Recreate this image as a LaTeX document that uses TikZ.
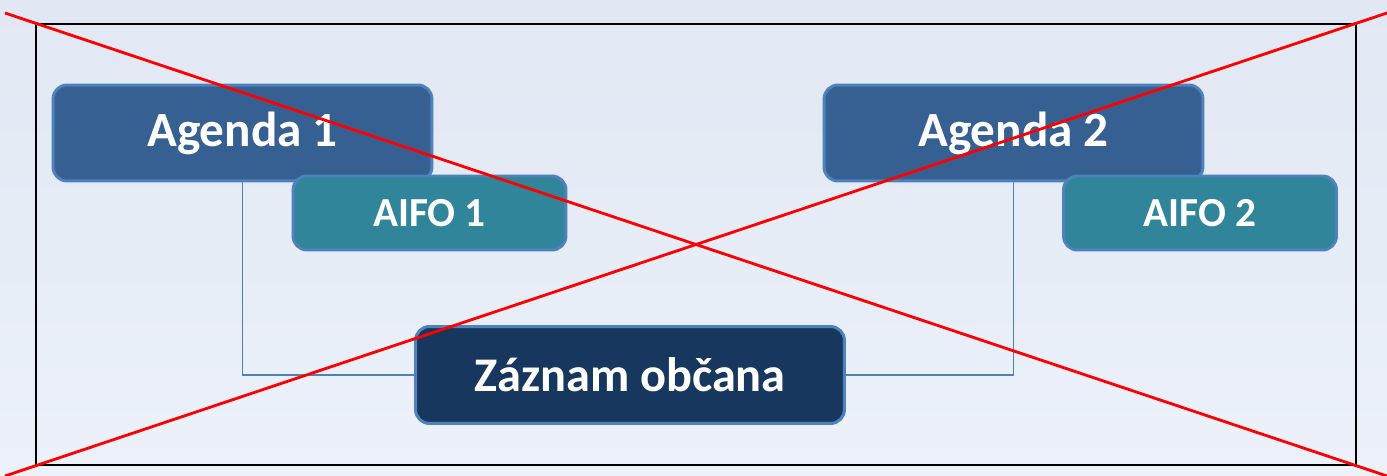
\documentclass[tikz,border=0pt]{standalone}
\usepackage{fontspec}
\setmainfont{Carlito}
\usepackage{xcolor}
\definecolor{agendablue}{RGB}{54,96,146}
\definecolor{aifoteal}{RGB}{49,133,155}
\definecolor{zaznamnavy}{RGB}{23,55,94}
\definecolor{edgeblue}{RGB}{79,129,189}
\definecolor{bgtop}{RGB}{225,232,243}
\definecolor{bgbottom}{RGB}{236,241,250}

\tikzset{
    box/.style={draw=edgeblue, line width=1.7pt, rounded corners=0.28cm,
        text=white, font=\bfseries, inner sep=0pt},
    agendabox/.style={box, fill=agendablue, minimum width=7.58cm,
        minimum height=1.92cm, font=\fontsize{28}{30}\selectfont\bfseries},
    aifobox/.style={box, fill=aifoteal, minimum width=5.46cm,
        minimum height=1.48cm, font=\fontsize{23.5}{26}\selectfont\bfseries},
    zaznambox/.style={box, fill=zaznamnavy, minimum width=8.58cm,
        minimum height=1.94cm, font=\fontsize{27.5}{30}\selectfont\bfseries},
    link/.style={draw=edgeblue, line width=0.9pt},
    cross/.style={draw=red, line width=1.6pt}
}

\begin{document}
\begin{tikzpicture}[x=0.02cm,y=-0.02cm]
            % background
            \shade[top color=bgtop, bottom color=bgbottom] (0,0) rectangle (1387,476);
            \useasboundingbox (0,0) rectangle (1387,476);

            % frame
            \draw[line width=1.1pt] (36,24) rectangle (1356,465);

            % agenda boxes
            \node[agendabox] (agenda1) at (242.5,133) {Agenda 1};
            \node[agendabox] (agenda2) at (1013.5,133) {Agenda 2};

            % record of the citizen
            \node[zaznambox] (zaznam) at (630,375) {Záznam občana};

            % links from agendas
            \draw[link] (agenda1.south) |- (zaznam.west);
            \draw[link] (agenda2.south) |- (zaznam.east);

            % aifo boxes
            \node[aifobox] (aifo1) at (429.5,213) {AIFO 1};
            \node[aifobox] (aifo2) at (1200,213) {AIFO 2};

            % crossed out
            \coordinate (TL) at (5,13);
            \coordinate (BR) at (1387,476);
            \coordinate (TR) at (1387,13);
            \coordinate (BL) at (5,476);
            \draw[cross] (TL) -- (BR);
            \draw[cross] (TR) -- (BL);
\end{tikzpicture}
\end{document}
